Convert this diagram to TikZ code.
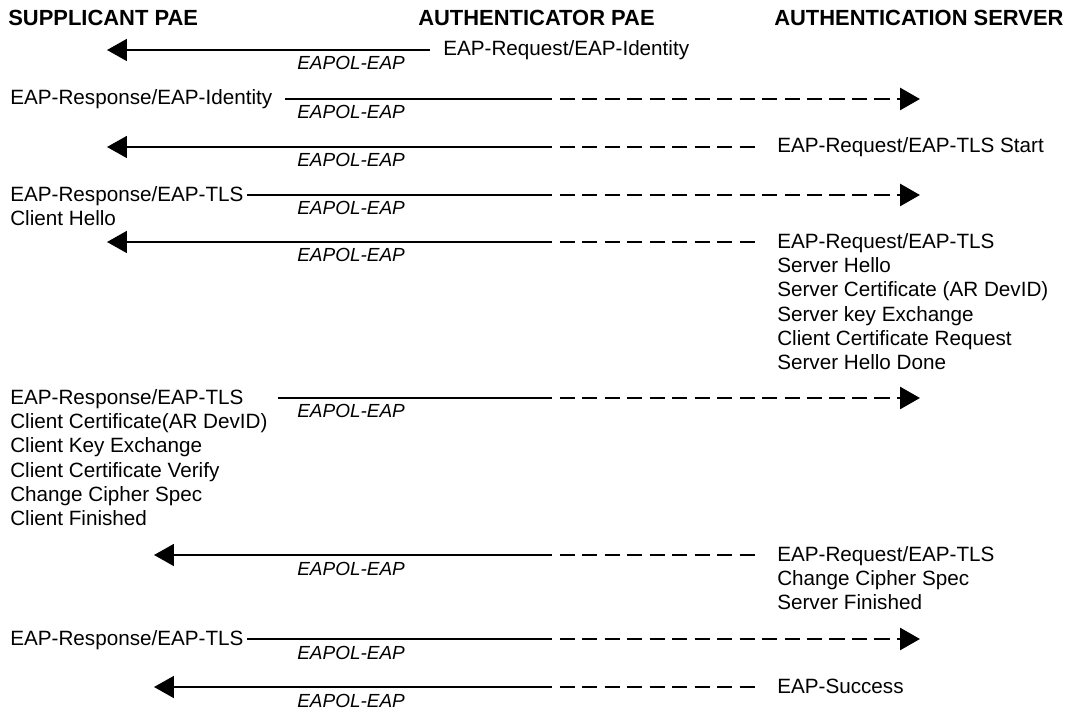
\documentclass[tikz,border=0pt]{standalone}
\usepackage{fontspec}
\setmainfont{Liberation Sans}
\usetikzlibrary{arrows.meta}

\tikzset{
  msg/.style={font=\fontsize{14.7}{17.2}\selectfont, inner sep=0pt, align=left, anchor=base west},
  head/.style={font=\fontsize{15.6}{18}\selectfont\bfseries, inner sep=0pt, anchor=base west},
  eapol/.style={font=\fontsize{13.5}{16}\selectfont\itshape, inner sep=0pt, anchor=base west},
  wire/.style={line width=1.4pt},
  relay/.style={line width=2.1pt, dash pattern=on 10.7pt off 5.3pt},
  arrowend/.style={-{Triangle[length=14.2pt,width=15.6pt]}}
}

\begin{document}
\begin{tikzpicture}[x=0.025cm, y=-0.025cm]
  \useasboundingbox (0,0) rectangle (1079,714);

  % Headers
  \node[head] (sup)  at (8,26)   {SUPPLICANT PAE};
  \node[head] (auth) at (418,26) {AUTHENTICATOR PAE};
  \node[head] (srv)  at (774,26) {AUTHENTICATION SERVER};

  % Authenticator relay points and EAPOL labels
  \foreach \n/\y in {1/50,2/99,3/147,4/195,5/242,6/398,7/555,8/639,9/687} {
    \coordinate (a\n) at (537,\y);
    \node[eapol] (e\n) at (297,\y+20) {EAPOL-EAP};
  }

  % Supplicant side ends
  \coordinate (s1) at (107,50);
  \coordinate (s3) at (107,147);
  \coordinate (s5) at (107,242);
  \coordinate (s7) at (154,555);
  \coordinate (s9) at (154,687);
  \coordinate (b1) at (430,50);
  \coordinate (b2) at (285,99);
  \coordinate (b4) at (247,195);
  \coordinate (b6) at (278,398);
  \coordinate (b8) at (247,639);

  % Server side ends
  \foreach \n/\y in {2/99,4/195,6/398,8/639}
    \coordinate (x\n) at (920,\y);
  \foreach \n/\y in {3/147,5/242,7/555,9/687}
    \coordinate (x\n) at (758,\y);

  % Messages (base is the last line, so multi-line ones sit 24.3 lower per extra line)
  \node[msg] (m1) at (443,56) {EAP-Request/EAP-Identity};
  \node[msg] (m2) at (10,105) {EAP-Response/EAP-Identity};
  \node[msg] (m3) at (777,153) {EAP-Request/EAP-TLS Start};
  \node[msg] (m4) at (10,201+24.3) {EAP-Response/EAP-TLS\\Client Hello};
  \node[msg] (m5) at (777,248+5*24.3) {EAP-Request/EAP-TLS\\Server Hello\\Server Certificate (AR DevID)\\Server key Exchange\\Client Certificate Request\\Server Hello Done};
  \node[msg] (m6) at (10,404+5*24.3) {EAP-Response/EAP-TLS\\Client Certificate(AR DevID)\\Client Key Exchange\\Client Certificate Verify\\Change Cipher Spec\\Client Finished};
  \node[msg] (m7) at (777,561+2*24.3) {EAP-Request/EAP-TLS\\Change Cipher Spec\\Server Finished};
  \node[msg] (m8) at (10,645) {EAP-Response/EAP-TLS};
  \node[msg] (m9) at (777,693) {EAP-Success};

  % Arrows
  \draw[wire,arrowend] (b1) -- (s1);
  \foreach \n in {2,4,6,8} {
    \draw[wire] (b\n) -- (a\n);
    \draw[relay,arrowend] (a\n) -- (x\n);
  }
  \foreach \n in {3,5,7,9} {
    \draw[relay] (a\n) -- (x\n);
    \draw[wire,arrowend] (a\n) -- (s\n);
  }

\end{tikzpicture}
\end{document}
